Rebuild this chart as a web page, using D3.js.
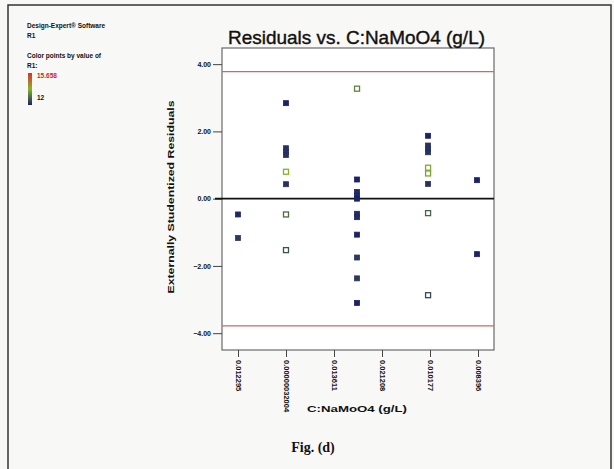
<!DOCTYPE html>
<html>
<head>
<meta charset="utf-8">
<script src="https://cdn.jsdelivr.net/npm/d3@7"></script>
<style>
  body { margin: 0; background: #fff; }
  svg { display: block; }
  text { font-family: "Liberation Sans", Arial, sans-serif; }
</style>
</head>
<body>
<svg id="chart" width="614" height="469"></svg>
<script>
// x positions are in tick units (tick i sits at i)
var tickLabels = ['0.012295', '0.00000032004', '0.013611', '0.021208', '0.010177', '0.008396'];
var yTicks = [4, 2, 0, -2, -4];
var limit = 3.78;

// residuals per column
var colX = [0, 1, 2.48, 3.96, 4.98];
var residuals = [
  [-0.47, -1.17],
  [2.84, 1.5, 1.4, 1.3, 0.8, 0.43, -0.47, -1.53],
  [3.27, 0.57, 0.2, 0.1, 0.0, -0.45, -0.55, -1.07, -1.75, -2.37, -3.1],
  [1.87, 1.58, 1.48, 1.38, 0.92, 0.75, 0.44, -0.43, -2.87],
  [0.55, -1.65]
];
// R1 value for each point (colour), same layout as residuals
var r1 = [
  [12.1, 12.3],
  [12.0, 12.2, 12.2, 12.2, 13.8, 12.2, 12.9, 12.6],
  [13.2, 12.0, 12.1, 12.1, 12.0, 12.1, 12.1, 12.0, 12.3, 12.3, 12.0],
  [12.0, 12.2, 12.2, 12.2, 13.7, 13.6, 12.2, 12.8, 12.5],
  [12.0, 12.0]
];
// hollow marker flag, same layout
var hollow = [
  [0, 0],
  [0, 0, 0, 0, 1, 0, 1, 1],
  [1, 0, 0, 0, 0, 0, 0, 0, 0, 0, 0],
  [0, 0, 0, 0, 1, 1, 0, 1, 1],
  [0, 0]
];

var svg = d3.select('#chart');
var plot = {left: 222, top: 48, right: 494, bottom: 350};

// page background and outer frame
svg.append('rect').attr('width', 614).attr('height', 469).attr('fill', '#f8f8f6');
svg.append('path')
    .attr('d', 'M8,469V5H611V469')
    .attr('fill', 'none')
    .attr('stroke', '#333')
    .attr('stroke-width', 1.5);

var x = d3.scaleLinear().domain([-1 / 3, 16 / 3]).range([plot.left, plot.right]);
var y = d3.scaleLinear().domain([-4.5, 4.48]).range([plot.bottom, plot.top]);
var color = d3.scaleLinear()
    .domain([12, 13.83, 15.658])
    .range(['#1c2266', '#86b42a', '#d8322a']);

svg.append('rect')
    .attr('x', plot.left).attr('y', plot.top)
    .attr('width', plot.right - plot.left).attr('height', plot.bottom - plot.top)
    .attr('fill', '#fff')
    .attr('stroke', '#6a6a6a')
    .attr('stroke-width', 1.2);

// y axis
var yAxis = svg.append('g')
    .attr('transform', 'translate(' + plot.left + ',0)')
    .call(d3.axisLeft(y).tickValues(yTicks).tickSize(9).tickPadding(2).tickFormat(d3.format('.2f')));
yAxis.select('.domain').remove();
yAxis.selectAll('line').attr('stroke', '#444');
yAxis.selectAll('text')
    .attr('font-size', 7)
    .attr('font-weight', 'bold')
    .attr('fill', '#111')
    .style('font-family', '"Liberation Sans", Arial, sans-serif');

// x axis
var xAxis = svg.append('g')
    .attr('transform', 'translate(0,' + plot.bottom + ')')
    .call(d3.axisBottom(x).tickValues(d3.range(tickLabels.length)).tickSize(7)
        .tickFormat(function(d) { return tickLabels[d]; }));
xAxis.select('.domain').remove();
xAxis.selectAll('line').attr('stroke', '#444');
xAxis.selectAll('text')
    .attr('transform', 'rotate(90)')
    .attr('x', 10).attr('y', 0).attr('dy', '0.35em')
    .attr('text-anchor', 'start')
    .attr('font-size', 7.5)
    .attr('font-weight', 'bold')
    .attr('fill', '#111')
    .style('font-family', '"Liberation Sans", Arial, sans-serif');

// reference lines
svg.append('line')
    .attr('x1', 215).attr('x2', plot.right)
    .attr('y1', y(0)).attr('y2', y(0))
    .attr('stroke', '#111').attr('stroke-width', 1.8);
[limit, -limit].forEach(function(v) {
    svg.append('line')
        .attr('x1', plot.left).attr('x2', plot.right)
        .attr('y1', y(v)).attr('y2', y(v))
        .attr('stroke', '#c86a6a').attr('stroke-width', 1.2);
});

// points
var pts = [];
residuals.forEach(function(col, i) {
    col.forEach(function(v, j) {
        pts.push({x: colX[i], y: v, r1: r1[i][j], open: hollow[i][j]});
    });
});
svg.append('g').selectAll('rect')
    .data(pts)
    .enter().append('rect')
    .attr('x', function(d) { return x(d.x) - 2.5; })
    .attr('y', function(d) { return y(d.y) - 2.5; })
    .attr('width', 5).attr('height', 5)
    .attr('fill', function(d) { return d.open ? '#fff' : color(d.r1); })
    .attr('stroke', function(d) { return color(d.r1); })
    .attr('stroke-width', function(d) { return d.open ? 1.3 : 0.8; });

// titles
svg.append('text')
    .attr('x', 228).attr('y', 44)
    .attr('font-size', 19)
    .attr('textLength', 257)
    .attr('lengthAdjust', 'spacingAndGlyphs')
    .attr('fill', '#111')
    .attr('stroke', '#111')
    .attr('stroke-width', 0.4)
    .text('Residuals vs. C:NaMoO4 (g/L)');

svg.append('text')
    .attr('transform', 'translate(174,197) rotate(-90)')
    .attr('text-anchor', 'middle')
    .attr('font-size', 9)
    .attr('font-weight', 'bold')
    .attr('textLength', 193)
    .attr('lengthAdjust', 'spacingAndGlyphs')
    .attr('fill', '#111')
    .text('Externally Studentized Residuals');

svg.append('text')
    .attr('x', 357).attr('y', 412)
    .attr('text-anchor', 'middle')
    .attr('font-size', 9)
    .attr('font-weight', 'bold')
    .attr('textLength', 100)
    .attr('lengthAdjust', 'spacingAndGlyphs')
    .attr('fill', '#111')
    .text('C:NaMoO4 (g/L)');

// legend block
var legend = svg.append('g')
    .attr('font-size', 6.5)
    .attr('font-weight', 'bold')
    .attr('fill', '#111');
legend.append('text').attr('x', 27).attr('y', 28).text('Design-Expert® Software');
legend.append('text').attr('x', 27).attr('y', 38).text('R1');
legend.append('text').attr('x', 27).attr('y', 58).text('Color points by value of');
legend.append('text').attr('x', 27).attr('y', 68).text('R1:');

var grad = svg.append('defs').append('linearGradient')
    .attr('id', 'r1grad').attr('x1', 0).attr('y1', 0).attr('x2', 0).attr('y2', 1);
color.domain().slice().reverse().forEach(function(v, i) {
    grad.append('stop').attr('offset', i / 2).attr('stop-color', color(v));
});
svg.append('rect')
    .attr('x', 28).attr('y', 73).attr('width', 4).attr('height', 32)
    .attr('fill', 'url(#r1grad)');
svg.append('text')
    .attr('x', 37).attr('y', 78)
    .attr('font-size', 6.5).attr('font-weight', 'bold')
    .attr('fill', '#c8282a')
    .text(d3.max(color.domain()));
svg.append('text')
    .attr('x', 37).attr('y', 100)
    .attr('font-size', 6.5).attr('font-weight', 'bold')
    .attr('fill', '#111')
    .text(d3.min(color.domain()));

svg.append('text')
    .attr('x', 313).attr('y', 452)
    .attr('text-anchor', 'middle')
    .attr('font-size', 14)
    .attr('font-weight', 'bold')
    .style('font-family', '"Liberation Serif", "Times New Roman", serif')
    .attr('fill', '#111')
    .text('Fig. (d)');
</script>
</body>
</html>
